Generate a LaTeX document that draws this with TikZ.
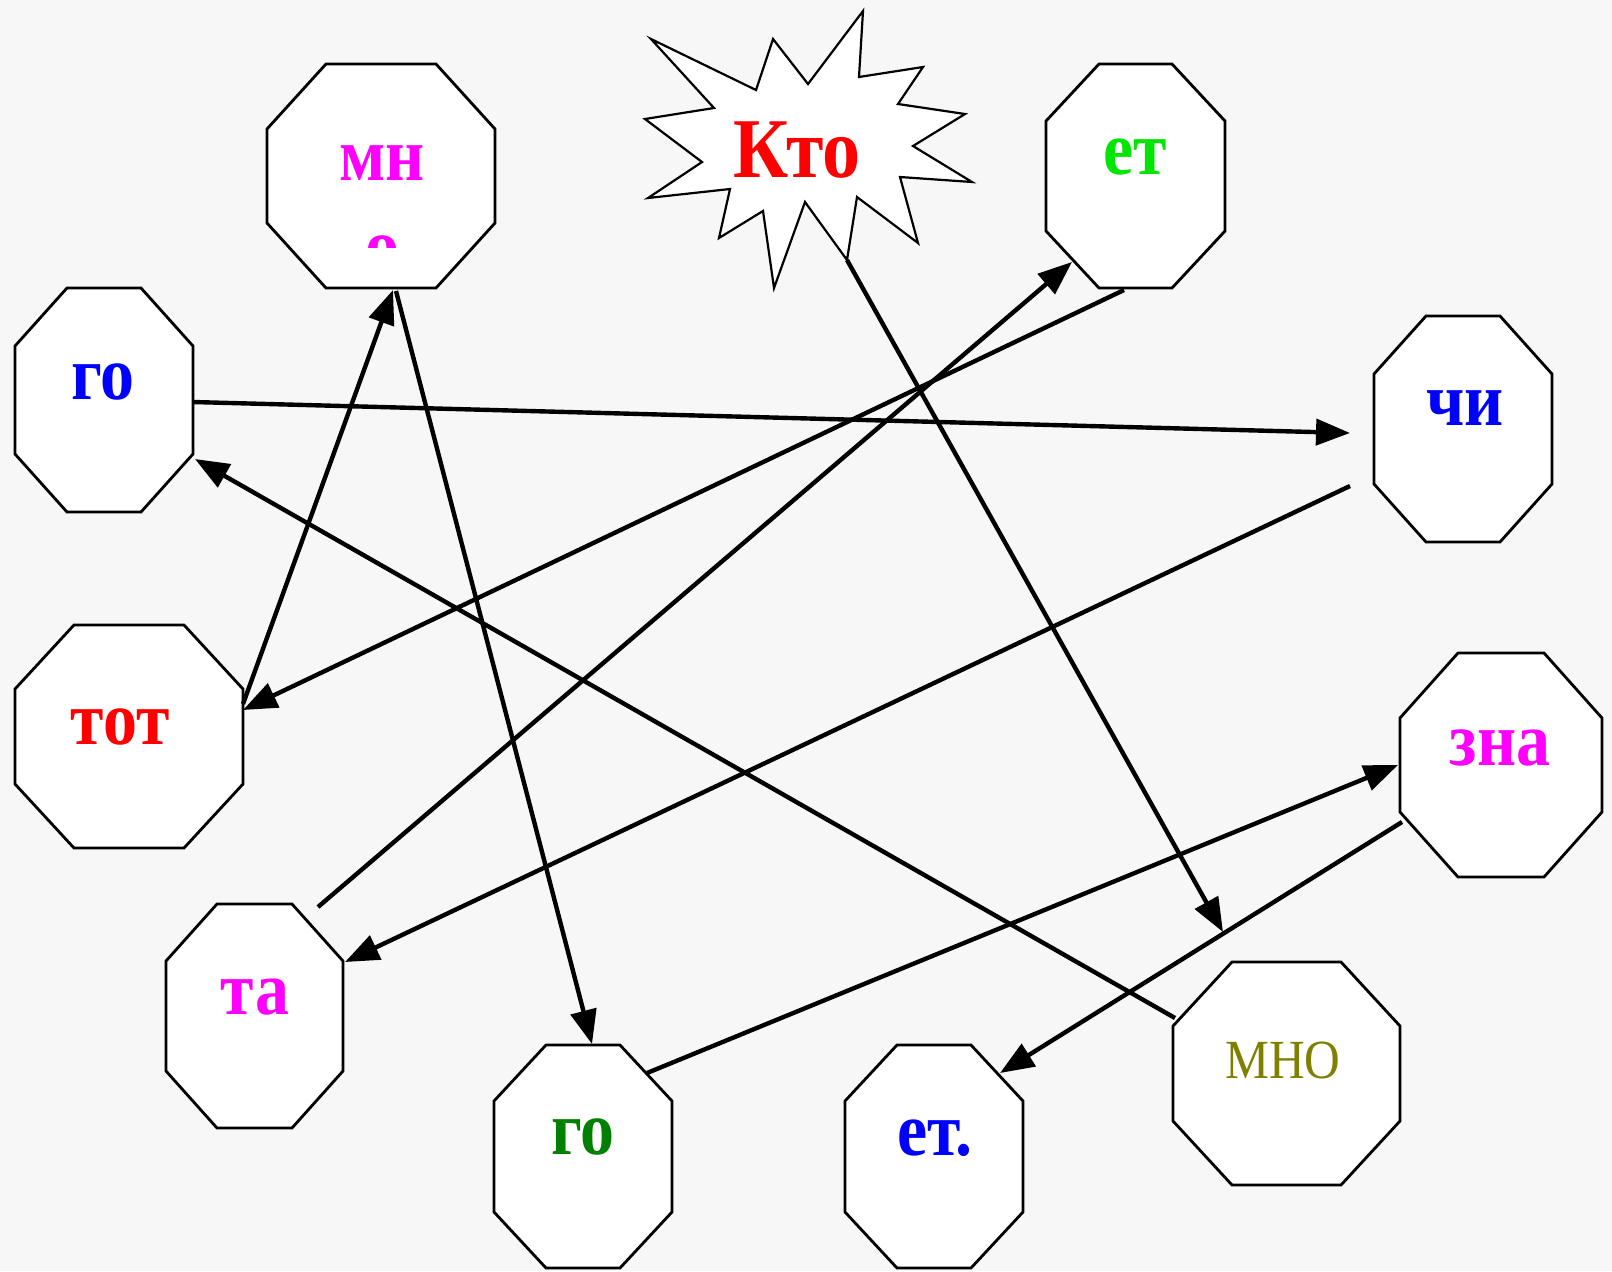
\documentclass[tikz,border=0pt]{standalone}
\usepackage{fontspec}
\setmainfont{Liberation Serif}
\usetikzlibrary{arrows.meta}
\definecolor{bgc}{HTML}{F7F7F7}
\definecolor{cmag}{HTML}{FF00FF}
\definecolor{cblue}{HTML}{0000FF}
\definecolor{cred}{HTML}{FF0000}
\definecolor{cbgreen}{HTML}{00E600}
\definecolor{cdgreen}{HTML}{008000}
\definecolor{colive}{HTML}{808000}
\newcommand\myoct[6]{\draw[octline] (#1+#5,#2) -- (#3-#5,#2) -- (#3,#2+#6) -- (#3,#4-#6) -- (#3-#5,#4) -- (#1+#5,#4) -- (#1,#4-#6) -- (#1,#2+#6) -- cycle;}
\newcommand\stretched[1]{\scalebox{1.03}[1.15]{#1}}
\tikzset{
  octline/.style={draw=black, line width=1.4pt, fill=white, line join=miter},
  starline/.style={draw=black, line width=1.1pt, fill=white, line join=miter},
  conn/.style={draw=black, line width=2.2pt, -{Triangle[length=17pt,width=13pt]}},
  word/.style={inner sep=0pt, font=\fontsize{33}{36}\selectfont\bfseries},
  bigword/.style={inner sep=0pt, font=\fontsize{37}{40}\selectfont\bfseries},
  thinword/.style={inner sep=0pt, font=\fontsize{24}{28}\selectfont}
}
\begin{document}
\begin{tikzpicture}[x=0.5pt,y=-0.5pt]
\useasboundingbox (0,0) rectangle (1612,1271);
\fill[bgc] (0,0) rectangle (1612,1271);

% octagons
\myoct{267}{64}{495}{288}{59}{65}
\myoct{1046}{64}{1225}{288}{53}{57}
\myoct{15}{288}{193}{512}{52}{58}
\myoct{15}{625}{243}{848}{59}{64}
\myoct{1374}{316}{1552}{542}{52}{58}
\myoct{1400}{653}{1602}{877}{58}{65}
\myoct{166}{904}{343}{1128}{51}{57}
\myoct{494}{1045}{672}{1268}{52}{56}
\myoct{845}{1045}{1023}{1268}{52}{56}
\myoct{1173}{962}{1400}{1185}{59}{64}

% star
\draw[starline] (651,39) -- (756,90) -- (773,39) -- (808,84) -- (863,11) -- (859,77)
  -- (923,67) -- (898,104) -- (965,114) -- (913,146) -- (972,182) -- (900,177)
  -- (918,243) -- (857,197) -- (847,260) -- (805,202) -- (774,288) -- (763,211)
  -- (719,238) -- (730,189) -- (648,198) -- (702,162) -- (645,119) -- (714,108) -- cycle;

% texts
\node[word, text=cmag] (tmn) at (382,163) {\stretched{мн}};
\begin{scope}
  \clip (267,200) rectangle (495,247);
  \node[word, text=cmag] (tmo) at (382,254) {\stretched{о}};
\end{scope}
\node[bigword, text=cred] (tkto) at (797,150) {\stretched{Кто}};
\node[word, text=cbgreen] (tet) at (1135,157) {\stretched{ет}};
\node[word, text=cblue] (tgo1) at (103,382) {\stretched{го}};
\node[word, text=cred] (ttot) at (120,727) {\stretched{тот}};
\node[word, text=cblue] (tchi) at (1465,408) {\stretched{чи}};
\node[word, text=cmag] (tzna) at (1500,748) {\stretched{зна}};
\node[word, text=cmag] (tta) at (255,997) {\stretched{та}};
\node[word, text=cdgreen] (tgo2) at (583,1137) {\stretched{го}};
\node[word, text=cblue] (tetd) at (935,1138) {\stretched{ет.}};
\node[thinword, text=colive] (tmno) at (1283,1060) {\stretched{МНО}};

% connector end points
\coordinate (c1s) at (847,260);  \coordinate (c1e) at (1223,932);
\coordinate (c2s) at (1175,1018); \coordinate (c2e) at (195,459);
\coordinate (c3s) at (193,402);  \coordinate (c3e) at (1350,433);
\coordinate (c4s) at (1350,486); \coordinate (c4e) at (345,962);
\coordinate (c5s) at (318,907);  \coordinate (c5e) at (1072,262);
\coordinate (c6s) at (1124,290); \coordinate (c6e) at (243,710);
\coordinate (c7s) at (243,704);  \coordinate (c7e) at (393,290);
\coordinate (c8s) at (396,291);  \coordinate (c8e) at (592,1044);
\coordinate (c9s) at (647,1073); \coordinate (c9e) at (1398,765);
\coordinate (c10s) at (1402,822); \coordinate (c10e) at (1000,1073);

\draw[conn] (c1s) -- (c1e);
\draw[conn] (c2s) -- (c2e);
\draw[conn] (c3s) -- (c3e);
\draw[conn] (c4s) -- (c4e);
\draw[conn] (c5s) -- (c5e);
\draw[conn] (c6s) -- (c6e);
\draw[conn] (c7s) -- (c7e);
\draw[conn] (c8s) -- (c8e);
\draw[conn] (c9s) -- (c9e);
\draw[conn] (c10s) -- (c10e);
\end{tikzpicture}
\end{document}
